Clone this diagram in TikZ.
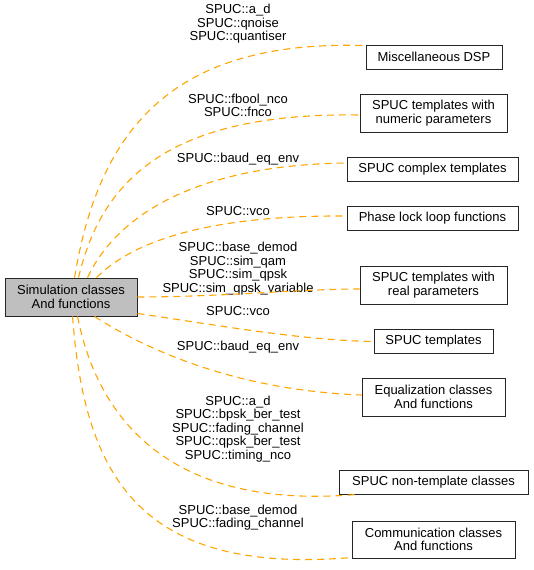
\documentclass[tikz,border=0pt]{standalone}
\usepackage{fontspec}
\setmainfont{Liberation Sans}
\usetikzlibrary{calc}
\definecolor{edgeorange}{HTML}{FFA500}
\definecolor{mainfill}{HTML}{BFBFBF}
\begin{document}
\begin{tikzpicture}[x=1pt,y=-1pt,
  box/.style={draw=black!85, line width=0.9pt, align=center, inner sep=0pt,
    font=\fontsize{13}{13.5}\selectfont},
  lbl/.style={align=center, inner sep=0pt, font=\fontsize{13}{13.5}\selectfont},
  dep/.style={draw=edgeorange, line width=1.1pt, dash pattern=on 7pt off 5pt}]
\useasboundingbox (0,0) rectangle (533,570);
% nodes
\node[box, fill=mainfill, minimum width=132pt, minimum height=38pt] (main) at (71,297) {Simulation classes\\And functions};
\node[box, minimum width=136pt, minimum height=24pt] (misc) at (434,57) {Miscellaneous DSP};
\node[box, minimum width=147pt, minimum height=38pt] (num) at (433.5,113) {SPUC templates with\\numeric parameters};
\node[box, minimum width=171pt, minimum height=24pt] (cplx) at (432.5,169) {SPUC complex templates};
\node[box, minimum width=171pt, minimum height=24pt] (pll) at (432.5,218) {Phase lock loop functions};
\node[box, minimum width=147pt, minimum height=38pt] (real) at (433.5,285) {SPUC templates with\\real parameters};
\node[box, minimum width=119pt, minimum height=24pt] (tmpl) at (433.5,341.5) {SPUC templates};
\node[box, minimum width=143pt, minimum height=38pt] (eq) at (433.5,397) {Equalization classes\\And functions};
\node[box, minimum width=189pt, minimum height=24pt] (nont) at (433.5,482) {SPUC non-template classes};
\node[box, minimum width=163pt, minimum height=37pt] (comm) at (433.5,539.5) {Communication classes\\And functions};
% labels
\node[lbl] (l1) at (238,24) {SPUC::a\_d\\SPUC::qnoise\\SPUC::quantiser};
\node[lbl] (l2) at (238,105.5) {SPUC::fbool\_nco\\SPUC::fnco};
\node[lbl] (l3) at (238,159) {SPUC::baud\_eq\_env};
\node[lbl] (l4) at (238,211) {SPUC::vco};
\node[lbl] (l5) at (238,268.5) {SPUC::base\_demod\\SPUC::sim\_qam\\SPUC::sim\_qpsk\\SPUC::sim\_qpsk\_variable};
\node[lbl] (l6) at (238,311) {SPUC::vco};
\node[lbl] (l7) at (238,347) {SPUC::baud\_eq\_env};
\node[lbl] (l8) at (238,429) {SPUC::a\_d\\SPUC::bpsk\_ber\_test\\SPUC::fading\_channel\\SPUC::qpsk\_ber\_test\\SPUC::timing\_nco};
\node[lbl] (l9) at (238,517.5) {SPUC::base\_demod\\SPUC::fading\_channel};
% edge end points
\coordinate (s1) at ($(main.north west)+(70,0)$);
\coordinate (s2) at ($(main.north west)+(74,0)$);
\coordinate (s3) at ($(main.north west)+(83,0)$);
\coordinate (s4) at ($(main.north west)+(92,0)$);
\coordinate (s5) at ($(main.east)+(0,0)$);
\coordinate (s6) at ($(main.south east)+(0,-3)$);
\coordinate (s7) at ($(main.south west)+(90,0)$);
\coordinate (s8) at ($(main.south west)+(73,0)$);
\coordinate (s9) at ($(main.south west)+(68,0)$);
\coordinate (e1) at ($(misc.north west)+(0,1)$);
\coordinate (e2) at ($(num.west)+(0,2)$);
\coordinate (e3) at ($(cplx.west)+(0,-6)$);
\coordinate (e4) at ($(pll.west)+(0,-2)$);
\coordinate (e5) at ($(real.west)+(0,4)$);
\coordinate (e6) at ($(tmpl.west)+(0,0)$);
\coordinate (e7) at ($(eq.west)+(0,-2)$);
\coordinate (e8) at ($(nont.south west)+(18,0)$);
\coordinate (e9) at ($(comm.south west)+(1,-1)$);
% edges
\draw[dep] (s1) .. controls +(25,-152) and +(-190,-6) .. (e1);
\draw[dep] (s2) .. controls +(23,-98) and +(-190,-3) .. (e2);
\draw[dep] (s3) .. controls +(27,-58) and +(-157,2) .. (e3);
\draw[dep] (s4) .. controls +(33,-33) and +(-147,-1) .. (e4);
\draw[dep] (s5) .. controls +(83,0) and +(-60,0) .. (e5);
\draw[dep] (s6) .. controls +(63,9) and +(-74,-1) .. (e6);
\draw[dep] (s7) .. controls +(45,29) and +(-132,-5) .. (e7);
\draw[dep] (s8) .. controls +(20,102) and +(-187,16) .. (e8);
\draw[dep] (s9) .. controls +(12,160) and +(-213,18) .. (e9);
\end{tikzpicture}
\end{document}
